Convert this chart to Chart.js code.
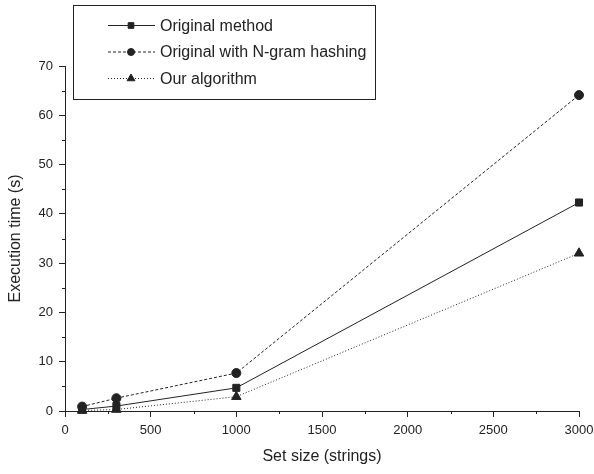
<!DOCTYPE html>
<html>
<head>
<meta charset="utf-8">
<script src="https://cdn.jsdelivr.net/npm/chart.js@4"></script>
<style>
  html, body { margin: 0; padding: 0; background: #fff; }
  #wrap { width: 594px; height: 474px; position: relative; }
</style>
</head>
<body>
<div id="wrap"><canvas id="chart" width="594" height="474"></canvas></div>
<script>
// Data
const setSizes = [100, 300, 1000, 3000];
const originalMethod = [0.3, 1.0, 4.7, 42.3];
const ngramHashing = [0.9, 2.6, 7.7, 64.1];
const ourAlgorithm = [0.1, 0.3, 2.9, 32.0];
const seriesNames = ['Original method', 'Original with N-gram hashing', 'Our algorithm'];
const xTicks = [0, 500, 1000, 1500, 2000, 2500, 3000];
const yTicks = [0, 10, 20, 30, 40, 50, 60, 70];

const ink = '#222';
const fontFamily = 'Arial, "Liberation Sans", sans-serif';

function toPoints(ys) {
    return setSizes.map((x, i) => ({ x: x, y: ys[i] }));
}

// minor ticks drawn outward, between the labelled ones
const minorTicks = {
    id: 'minorTicks',
    afterDraw(chart) {
        const ctx = chart.ctx;
        const xs = chart.scales.x, ys = chart.scales.y;
        ctx.save();
        ctx.strokeStyle = ink;
        ctx.lineWidth = 1;
        ctx.beginPath();
        for (let v = 250; v < 3000; v += 500) {
            const px = Math.round(xs.getPixelForValue(v)) + 0.5;
            ctx.moveTo(px, xs.top);
            ctx.lineTo(px, xs.top + 3);
        }
        for (let v = 5; v < 70; v += 10) {
            const py = Math.round(ys.getPixelForValue(v)) + 0.5;
            ctx.moveTo(ys.right, py);
            ctx.lineTo(ys.right - 3, py);
        }
        ctx.stroke();
        ctx.restore();
    }
};

// boxed legend with line samples, top left
const boxLegend = {
    id: 'boxLegend',
    afterDraw(chart) {
        const ctx = chart.ctx;
        const left = 73, top = 5, width = 302, height = 94;
        ctx.save();
        ctx.fillStyle = '#fff';
        ctx.fillRect(left, top, width, height);
        ctx.strokeStyle = ink;
        ctx.lineWidth = 1;
        ctx.strokeRect(left + 0.5, top + 0.5, width, height);
        chart.data.datasets.forEach((ds, i) => {
            const y = 25.5 + i * 26.5;
            ctx.strokeStyle = ds.borderColor;
            ctx.fillStyle = ink;
            ctx.setLineDash(ds.borderDash || []);
            ctx.beginPath();
            ctx.moveTo(108, y);
            ctx.lineTo(155, y);
            ctx.stroke();
            ctx.setLineDash([]);
            Chart.helpers.drawPoint(ctx, {
                pointStyle: ds.pointStyle,
                radius: ds.pointRadius - 1,
                borderWidth: 1
            }, 131, y);
            ctx.fillStyle = ink;
            ctx.font = '16px ' + fontFamily;
            ctx.textBaseline = 'middle';
            ctx.fillText(ds.label, 160, y + 1);
        });
        ctx.restore();
    }
};

const common = {
    borderColor: ink,
    backgroundColor: ink,
    pointBorderColor: ink,
    pointBackgroundColor: ink,
    borderWidth: 1,
    tension: 0,
    clip: false
};

new Chart(document.getElementById('chart'), {
    type: 'line',
    data: {
        datasets: [
            Object.assign({}, common, {
                label: seriesNames[0],
                data: toPoints(originalMethod),
                pointStyle: 'rect',
                pointRadius: 5
            }),
            Object.assign({}, common, {
                label: seriesNames[1],
                data: toPoints(ngramHashing),
                borderDash: [3, 2],
                pointStyle: 'circle',
                pointRadius: 4.5
            }),
            Object.assign({}, common, {
                label: seriesNames[2],
                data: toPoints(ourAlgorithm),
                borderDash: [1, 2],
                pointStyle: 'triangle',
                pointRadius: 5.5
            })
        ]
    },
    options: {
        responsive: false,
        animation: false,
        layout: { padding: { top: 66, right: 15, left: 0, bottom: 0 } },
        plugins: {
            legend: { display: false },
            tooltip: { enabled: false }
        },
        scales: {
            x: {
                type: 'linear',
                min: 0,
                max: 3000,
                afterFit(scale) {
                    scale.height = 63;
                    scale.paddingRight = 0;
                },
                afterBuildTicks(scale) { scale.ticks = xTicks.map(v => ({ value: v })); },
                grid: { drawOnChartArea: false, tickLength: 6, color: ink, tickColor: ink },
                border: { color: ink, width: 1 },
                ticks: {
                    color: ink,
                    padding: 6,
                    maxRotation: 0,
                    font: { family: fontFamily, size: 13 },
                    callback: v => String(v)
                },
                title: {
                    display: true,
                    text: 'Set size (strings)',
                    color: ink,
                    padding: { top: 0, bottom: 8 },
                    font: { family: fontFamily, size: 16 }
                }
            },
            y: {
                min: 0,
                max: 70,
                afterFit(scale) { scale.width = 65; },
                afterBuildTicks(scale) { scale.ticks = yTicks.map(v => ({ value: v })); },
                grid: { drawOnChartArea: false, tickLength: 6, color: ink, tickColor: ink },
                border: { color: ink, width: 1 },
                ticks: {
                    color: ink,
                    padding: 6,
                    font: { family: fontFamily, size: 13 },
                    callback: v => String(v)
                },
                title: {
                    display: true,
                    text: 'Execution time (s)',
                    color: ink,
                    padding: { top: 6, bottom: 0 },
                    font: { family: fontFamily, size: 16 }
                }
            }
        }
    },
    plugins: [minorTicks, boxLegend]
});
</script>
</body>
</html>
